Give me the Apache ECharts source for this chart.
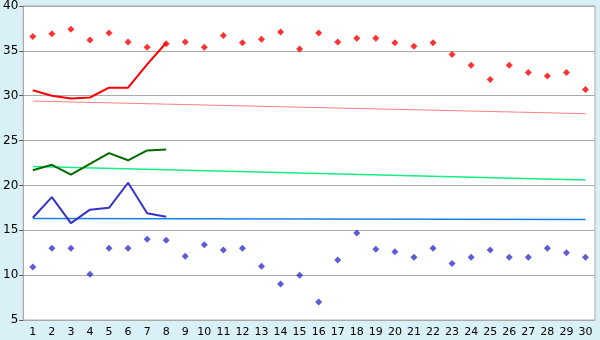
<!DOCTYPE html>
<html>
<head>
<meta charset="utf-8">
<script src="https://cdn.jsdelivr.net/npm/echarts@6/dist/echarts.min.js"></script>
<style>
  html, body { margin: 0; padding: 0; background: #d9f0f7; }
  #chart { width: 600px; height: 340px; }
</style>
</head>
<body>
<div id="chart"></div>
<script>
// day numbers on the x axis
var days = ['1','2','3','4','5','6','7','8','9','10','11','12','13','14','15',
            '16','17','18','19','20','21','22','23','24','25','26','27','28','29','30'];

// daily highs / lows (points)
var highPoints = [36.6, 36.9, 37.4, 36.2, 37.0, 36.0, 35.4, 35.8, 36.0, 35.4,
                  36.7, 35.9, 36.3, 37.1, 35.2, 37.0, 36.0, 36.4, 36.4, 35.9,
                  35.5, 35.9, 34.6, 33.4, 31.8, 33.4, 32.6, 32.2, 32.6, 30.7];
var lowPoints = [10.9, 13.0, 13.0, 10.1, 13.0, 13.0, 14.0, 13.9, 12.1, 13.4,
                 12.8, 13.0, 11.0, 9.0, 10.0, 7.0, 11.7, 14.7, 12.9, 12.6,
                 12.0, 13.0, 11.3, 12.0, 12.8, 12.0, 12.0, 13.0, 12.5, 12.0];

// first 8 days lines
var redLine = [30.6, 30.0, 29.7, 29.8, 30.9, 30.9, 33.5, 35.9];
var greenLine = [21.7, 22.3, 21.2, 22.4, 23.6, 22.8, 23.9, 24.0];
var blueLine = [16.4, 18.7, 15.8, 17.3, 17.5, 20.3, 16.9, 16.5];

// trend lines, value at day 1 and day 30
var redTrend = [29.4, 28.0];
var greenTrend = [22.1, 20.6];
var blueTrend = [16.3, 16.2];

function trendData(ends) {
    return [[0, ends[0]], [days.length - 1, ends[1]]];
}

var chart = echarts.init(document.getElementById('chart'));
var option = {
    backgroundColor: '#d9f0f7',
    animation: false,
    grid: {
        left: 21, right: 5, top: 5, bottom: 20,
        show: true, backgroundColor: '#fff', borderColor: '#aaa', borderWidth: 1
    },
    xAxis: {
        type: 'category',
        data: days,
        boundaryGap: true,
        axisLine: { lineStyle: { color: '#aaa' } },
        axisTick: { alignWithLabel: true, length: 5, lineStyle: { color: '#555' } },
        axisLabel: { color: '#000', fontFamily: 'DejaVu Sans', fontSize: 11, margin: 7, interval: 0 },
        splitLine: { show: false }
    },
    yAxis: {
        type: 'value',
        min: 5, max: 40, interval: 5,
        axisLine: { show: true, lineStyle: { color: '#aaa' } },
        axisTick: { show: true, length: 4, lineStyle: { color: '#555' } },
        axisLabel: { color: '#000', fontFamily: 'DejaVu Sans', fontSize: 12, margin: 5 },
        splitLine: { lineStyle: { color: '#aaa' } }
    },
    series: [
        { type: 'line', data: trendData(redTrend), symbol: 'none', lineStyle: { color: '#ff8080', width: 1 } },
        { type: 'line', data: trendData(greenTrend), symbol: 'none', lineStyle: { color: '#11f080', width: 1.5 } },
        { type: 'line', data: trendData(blueTrend), symbol: 'none', lineStyle: { color: '#1a80e6', width: 1.5 } },
        { type: 'line', data: redLine, symbol: 'none', lineStyle: { color: '#ff0000', width: 2 } },
        { type: 'line', data: greenLine, symbol: 'none', lineStyle: { color: '#006a00', width: 2 } },
        { type: 'line', data: blueLine, symbol: 'none', lineStyle: { color: '#3333cc', width: 2 } },
        { type: 'scatter', data: highPoints, symbol: 'diamond', symbolSize: 7, itemStyle: { color: '#ff0000' } },
        { type: 'scatter', data: lowPoints, symbol: 'diamond', symbolSize: 7, itemStyle: { color: '#3333cc' } }
    ]
};
chart.setOption(option);
</script>
</body>
</html>
